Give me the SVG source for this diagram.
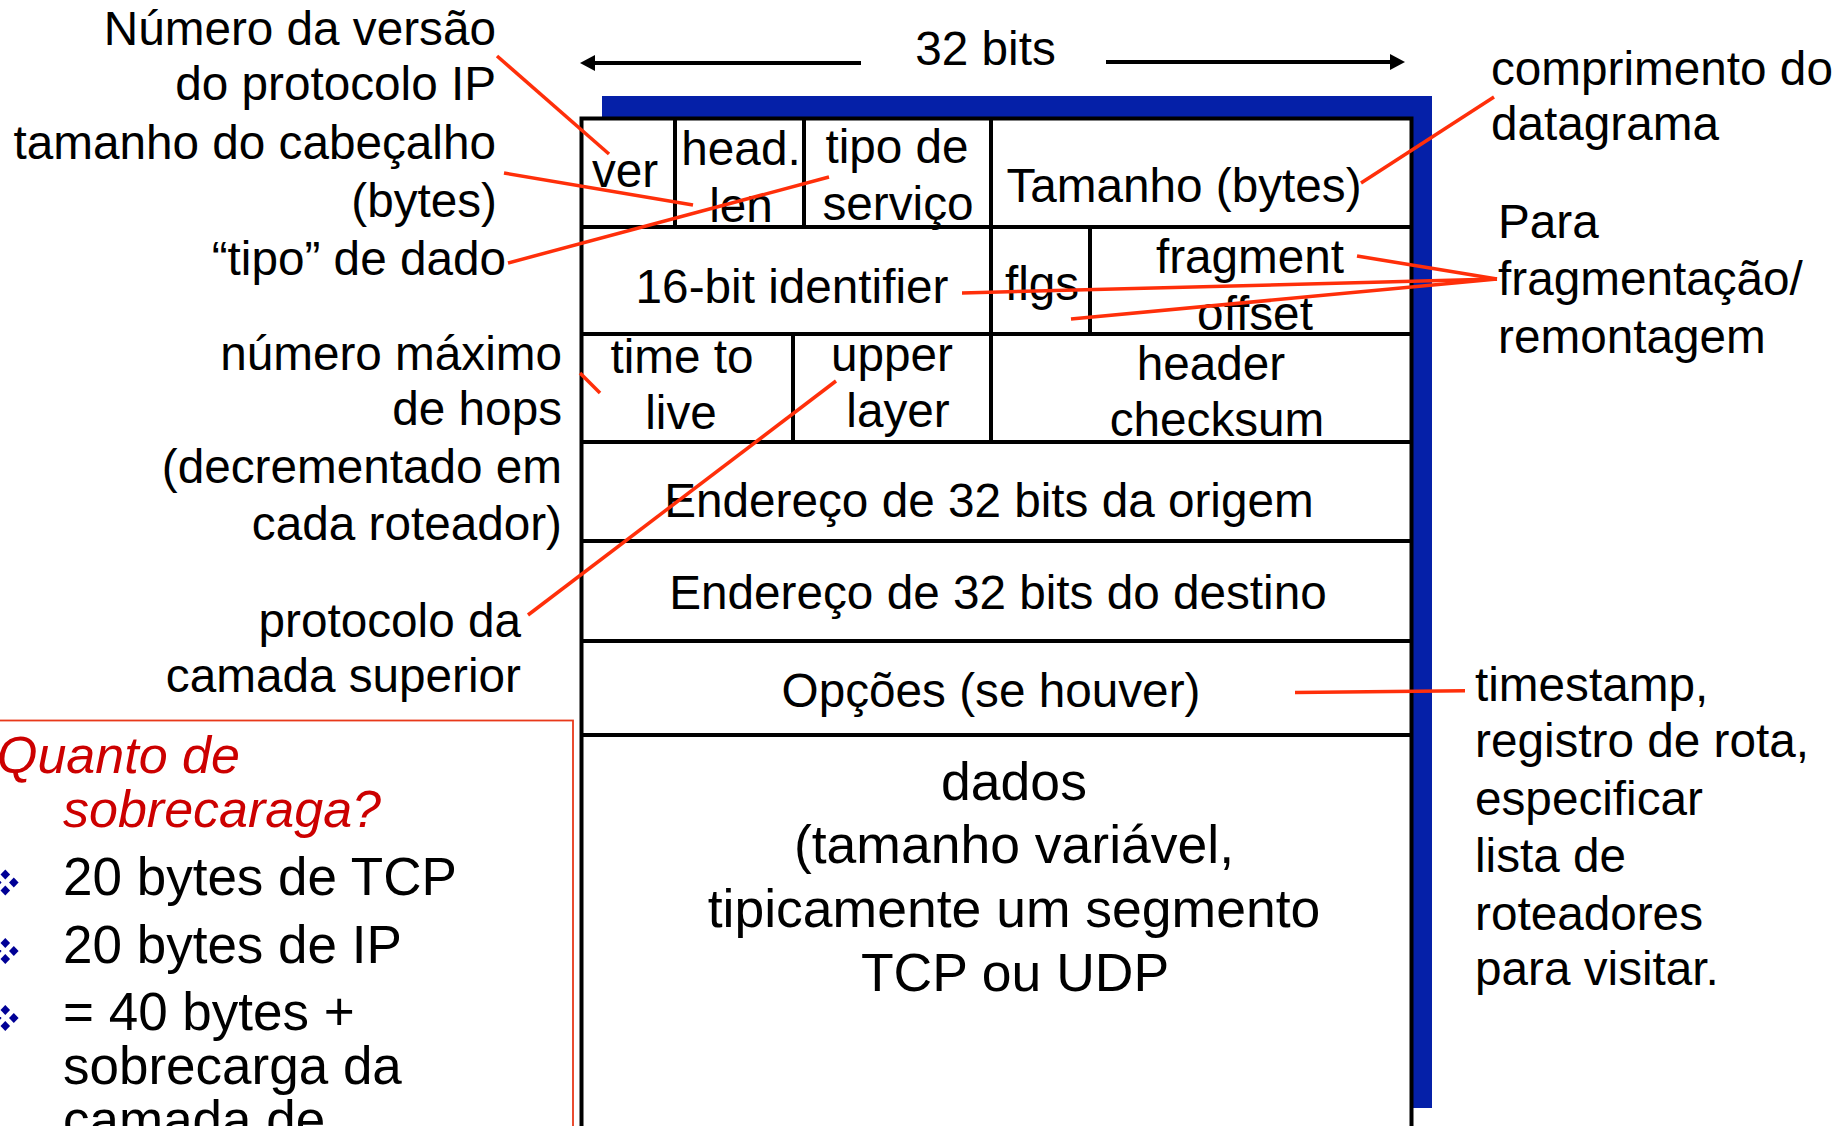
<svg xmlns="http://www.w3.org/2000/svg" width="1839" height="1126" viewBox="0 0 1839 1126">
  <style>
    text { font-family: "Liberation Sans", Arial, Helvetica, sans-serif; font-size: 47.7px; fill: #000; }
    .c { text-anchor: middle; }
    .e { text-anchor: end; }
    .q { font-style: italic; font-size: 52px; fill: #cc0000; }
    .b { font-size: 53px; }
    .d { font-size: 53.5px; }
    .grid { stroke: #000; stroke-width: 4; fill: none; }
    .sheet { stroke: #000; stroke-width: 4; fill: #fff; }
    .lead { stroke: #ff2f0a; stroke-width: 3.5; fill: none; stroke-linecap: butt; }
    .dim { stroke: #000; stroke-width: 4; fill: none; }
  </style>
  <defs>
    <marker id="arrow" markerUnits="userSpaceOnUse" markerWidth="16" markerHeight="17" refX="5" refY="8" orient="auto">
      <path d="M0,0 L15,8 L0,16 Z" fill="#000"/>
    </marker>
    <g id="bullet" fill="#000096">
      <polygon points="0,-13 4.8,-8 0,-3 -4.8,-8"/>
      <polygon points="8.5,-5 13.3,0 8.5,5 3.7,0"/>
      <polygon points="0,3 4.8,8 0,13 -4.8,8"/>
      <polygon points="-8.5,-5 -3.7,0 -8.5,5 -13.3,0"/>
    </g>
  </defs>

  <rect width="1839" height="1126" fill="#fff"/>

  <!-- width indicator above the header -->
  <g id="width-32bits">
    <text class="c" x="985.5" y="65">32 bits</text>
    <line class="dim" x1="861" y1="63" x2="590" y2="63" marker-end="url(#arrow)"/>
    <line class="dim" x1="1106" y1="62" x2="1395" y2="62" marker-end="url(#arrow)"/>
  </g>

  <!-- datagram header table with blue drop shadow -->
  <g id="datagram">
    <rect x="602" y="96" width="830" height="1012" fill="#0520a8"/>
    <rect class="sheet" x="581.5" y="118.5" width="830" height="1020"/>
    <g class="grid">
      <line x1="581.5" y1="227" x2="1411.5" y2="227"/>
      <line x1="581.5" y1="334" x2="1411.5" y2="334"/>
      <line x1="581.5" y1="442" x2="1411.5" y2="442"/>
      <line x1="581.5" y1="541" x2="1411.5" y2="541"/>
      <line x1="581.5" y1="641" x2="1411.5" y2="641"/>
      <line x1="581.5" y1="735" x2="1411.5" y2="735"/>
      <line x1="675" y1="118.5" x2="675" y2="227"/>
      <line x1="804" y1="118.5" x2="804" y2="227"/>
      <line x1="991" y1="118.5" x2="991" y2="442"/>
      <line x1="1090" y1="227" x2="1090" y2="334"/>
      <line x1="793" y1="334" x2="793" y2="442"/>
    </g>
  </g>

  <g id="field-ver"><text class="c" x="625" y="187">ver</text></g>
  <g id="field-hlen"><text class="c" x="741" y="165">head.</text><text class="c" x="741" y="222">len</text></g>
  <g id="field-tos"><text class="c" x="897" y="163">tipo de</text><text class="c" x="898" y="220">serviço</text></g>
  <g id="field-length"><text class="c" x="1184" y="202">Tamanho (bytes)</text></g>
  <g id="field-id"><text class="c" x="792" y="303">16-bit identifier</text></g>
  <g id="field-flags"><text class="c" x="1042" y="300">flgs</text></g>
  <g id="field-fragoff"><text class="c" x="1250" y="273">fragment</text><text class="c" x="1255" y="330">offset</text></g>
  <g id="field-ttl"><text class="c" x="682" y="373">time to</text><text class="c" x="681" y="429">live</text></g>
  <g id="field-proto"><text class="c" x="892" y="371">upper</text><text class="c" x="898" y="427">layer</text></g>
  <g id="field-checksum"><text class="c" x="1211" y="380">header</text><text class="c" x="1217" y="436">checksum</text></g>
  <g id="field-src"><text class="c" x="989" y="517">Endereço de 32 bits da origem</text></g>
  <g id="field-dst"><text class="c" x="998" y="609">Endereço de 32 bits do destino</text></g>
  <g id="field-options"><text class="c" x="991" y="707">Opções (se houver)</text></g>
  <g id="field-data">
    <text class="c d" x="1014" y="800">dados</text>
    <text class="c d" x="1014" y="863">(tamanho variável,</text>
    <text class="c d" x="1014" y="927">tipicamente um segmento</text>
    <text class="c d" x="1015" y="991">TCP ou UDP</text>
  </g>

  <!-- annotations on the left -->
  <g id="note-version">
    <text class="e" x="496" y="45">Número da versão</text>
    <text class="e" x="496" y="100">do protocolo IP</text>
  </g>
  <g id="note-hlen">
    <text class="e" x="496" y="159">tamanho do cabeçalho</text>
    <text class="e" x="497" y="217">(bytes)</text>
  </g>
  <g id="note-tos"><text class="e" x="506" y="275">“tipo” de dado</text></g>
  <g id="note-ttl">
    <text class="e" x="562" y="370">número máximo</text>
    <text class="e" x="562" y="425">de hops</text>
    <text class="e" x="562" y="483">(decrementado em</text>
    <text class="e" x="562" y="540">cada roteador)</text>
  </g>
  <g id="note-proto">
    <text class="e" x="521" y="637">protocolo da</text>
    <text class="e" x="521" y="692">camada superior</text>
  </g>

  <!-- annotations on the right -->
  <g id="note-length">
    <text x="1491" y="85">comprimento do</text>
    <text x="1491" y="140">datagrama</text>
  </g>
  <g id="note-frag">
    <text x="1498" y="238">Para</text>
    <text x="1498" y="295">fragmentação/</text>
    <text x="1498" y="353">remontagem</text>
  </g>
  <g id="note-options">
    <text x="1475" y="701">timestamp,</text>
    <text x="1475" y="757">registro de rota,</text>
    <text x="1475" y="815">especificar</text>
    <text x="1475" y="872">lista de</text>
    <text x="1475" y="930">roteadores</text>
    <text x="1475" y="985">para visitar.</text>
  </g>

  <!-- overhead box -->
  <g id="overhead">
    <rect x="-10" y="720.5" width="583" height="500" fill="none" stroke="#e8391a" stroke-width="1.8"/>
    <text class="q" x="-3" y="773">Quanto de</text>
    <text class="q" x="63" y="827">sobrecaraga?</text>
    <use href="#bullet" x="5.3" y="882.5"/>
    <use href="#bullet" x="5.3" y="951"/>
    <use href="#bullet" x="5.3" y="1018"/>
    <text class="b" x="63" y="895">20 bytes de TCP</text>
    <text class="b" x="63" y="963">20 bytes de IP</text>
    <text class="b" x="63" y="1030">= 40 bytes +</text>
    <text class="b" x="63" y="1084">sobrecarga da</text>
    <text class="b" x="63" y="1138">camada de</text>
  </g>

  <!-- leader lines from notes to fields -->
  <g id="connectors" class="lead">
    <line x1="497" y1="56" x2="609" y2="154"/>
    <line x1="504" y1="173" x2="693" y2="205"/>
    <line x1="508" y1="263" x2="829" y2="177"/>
    <line x1="1494" y1="97" x2="1361" y2="183"/>
    <line x1="1357" y1="256" x2="1497" y2="279"/>
    <line x1="962" y1="293" x2="1497" y2="279"/>
    <line x1="1071" y1="319" x2="1497" y2="279"/>
    <line x1="580" y1="373" x2="600" y2="393"/>
    <line x1="528" y1="615" x2="836" y2="381"/>
    <line x1="1295" y1="692.5" x2="1465" y2="690.7"/>
  </g>
</svg>
